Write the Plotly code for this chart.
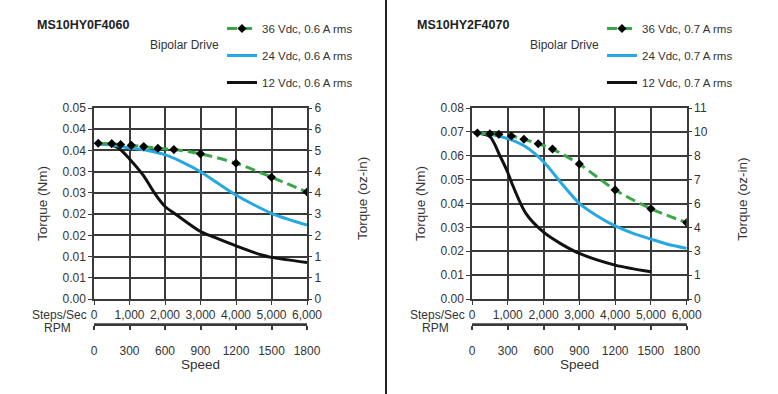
import plotly.graph_objects as go

# ---------------- data ----------------
# Left chart: MS10HY0F4060 (torque in Nm vs steps/sec)
l36_x = [120, 500, 750, 1050, 1400, 1800, 2250, 3000, 4000, 5000, 6000]
l36_y = [0.0367, 0.0366, 0.0364, 0.0362, 0.0359, 0.0355, 0.0352, 0.0342, 0.0320, 0.0287, 0.0252]
l24_x = [120, 500, 1000, 1500, 2000, 2500, 3000, 3500, 4000, 4500, 5000, 5500, 6000]
l24_y = [0.0366, 0.0363, 0.0356, 0.0350, 0.0340, 0.0322, 0.0300, 0.0272, 0.0245, 0.0222, 0.0202, 0.0187, 0.0174]
l12_x = [120, 500, 700, 1000, 1400, 1700, 2000, 2330, 3000, 3400, 4000, 4750, 5000, 6000]
l12_y = [0.0366, 0.0363, 0.0355, 0.0330, 0.0290, 0.0250, 0.0218, 0.0198, 0.0159, 0.0145, 0.0125, 0.0103, 0.0098, 0.0086]

# Right chart: MS10HY2F4070
r36_x = [150, 500, 750, 1100, 1450, 1850, 2250, 3000, 4000, 5000, 6000]
r36_y = [0.0695, 0.0692, 0.0690, 0.0683, 0.0669, 0.0650, 0.0628, 0.0565, 0.0457, 0.0378, 0.0320]
r24_x = [150, 500, 1000, 1500, 2000, 2500, 3000, 3500, 4000, 4500, 5000, 5500, 6000]
r24_y = [0.0695, 0.0690, 0.0672, 0.0638, 0.0575, 0.0485, 0.0401, 0.0348, 0.0306, 0.0275, 0.0251, 0.0228, 0.0212]
r12_x = [150, 500, 780, 1000, 1100, 1500, 2000, 2500, 3000, 4000, 5000]
r12_y = [0.0695, 0.0680, 0.0600, 0.0530, 0.0490, 0.0360, 0.0280, 0.0230, 0.0191, 0.0142, 0.0114]

# axis ticks / labels
steps_ticks = [0, 1000, 2000, 3000, 4000, 5000, 6000]
steps_text = ["0", "1,000", "2,000", "3,000", "4,000", "5,000", "6,000"]
rpm_ticks = [0, 300, 600, 900, 1200, 1500, 1800]
rpm_text = ["0", "300", "600", "900", "1200", "1500", "1800"]

l_nm_ticks = [0, 0.005, 0.01, 0.015, 0.02, 0.025, 0.03, 0.035, 0.04, 0.045]
l_nm_text = ["0.00", "0.01", "0.01", "0.02", "0.02", "0.03", "0.03", "0.04", "0.04", "0.05"]
l_oz_text = ["0", "1", "1", "2", "3", "4", "4", "5", "6", "6"]

r_nm_ticks = [0, 0.01, 0.02, 0.03, 0.04, 0.05, 0.06, 0.07, 0.08]
r_nm_text = ["0.00", "0.01", "0.02", "0.03", "0.04", "0.05", "0.06", "0.07", "0.08"]
r_oz_text = ["0", "1", "3", "4", "6", "7", "8", "10", "11"]

left_names = ["36 Vdc, 0.6 A rms", "24 Vdc, 0.6 A rms", "12 Vdc, 0.6 A rms"]
right_names = ["36 Vdc, 0.7 A rms", "24 Vdc, 0.7 A rms", "12 Vdc, 0.7 A rms"]
titles = ["MS10HY0F4060", "MS10HY2F4070"]

# ---------------- styling ----------------
W, H = 778, 394
FONT = "Liberation Sans, Arial, sans-serif"
TXT = "#333333"
GRID = "#3a3a3a"
GREEN = "#3aa64a"
BLUE = "#26a9e0"
BLACK = "#111111"

def px_x(p):
    return p / W

def px_y(p):
    return 1 - p / H

Y_DOM = [px_y(299), px_y(108)]
RPM_DOM = [px_y(324), px_y(318)]
L_DOM = [px_x(94), px_x(307)]
R_DOM = [px_x(472), px_x(686.7)]

fig = go.Figure()

def add_series(xa, ya, xs, names, legend, group_prefix):
    fig.add_trace(go.Scatter(x=xs[2][0], y=xs[2][1], mode="lines", name=names[2],
                             line=dict(color=BLACK, width=3, shape="spline", smoothing=0.8),
                             xaxis=xa, yaxis=ya, legend=legend, legendrank=3,
                             legendgroup=group_prefix + "c"))
    fig.add_trace(go.Scatter(x=xs[1][0], y=xs[1][1], mode="lines", name=names[1],
                             line=dict(color=BLUE, width=3, shape="spline", smoothing=0.8),
                             xaxis=xa, yaxis=ya, legend=legend, legendrank=2,
                             legendgroup=group_prefix + "b"))
    fig.add_trace(go.Scatter(x=xs[0][0], y=xs[0][1], mode="lines+markers", name=names[0],
                             line=dict(color=GREEN, width=3, dash="10px,5px", shape="spline", smoothing=0.8),
                             marker=dict(symbol="diamond", size=7, color="black"),
                             xaxis=xa, yaxis=ya, legend=legend, legendrank=1,
                             legendgroup=group_prefix + "a"))

add_series("x", "y", [(l36_x, l36_y), (l24_x, l24_y), (l12_x, l12_y)], left_names, "legend", "L")
add_series("x3", "y3", [(r36_x, r36_y), (r24_x, r24_y), (r12_x, r12_y)], right_names, "legend2", "R")

# empty traces so the secondary axes (oz-in, RPM) are drawn
for xa, ya in [("x", "y2"), ("x2", "y5"), ("x3", "y4"), ("x4", "y6")]:
    fig.add_trace(go.Scatter(x=[None], y=[None], xaxis=xa, yaxis=ya, showlegend=False,
                             hoverinfo="skip", mode="lines"))

tickfont = dict(family=FONT, size=12, color=TXT)

def main_x(dom, anchor):
    return dict(domain=dom, anchor=anchor, range=[0, 6000], tickvals=steps_ticks, ticktext=steps_text,
                showgrid=True, gridcolor=GRID, gridwidth=1.5, showline=True, linecolor=GRID,
                linewidth=1.5, mirror=True, ticks="outside", ticklen=4, tickcolor=GRID,
                tickfont=tickfont, zeroline=False, automargin=False)

def rpm_x(dom, anchor):
    return dict(domain=dom, anchor=anchor, range=[0, 1800],
                tickvals=rpm_ticks, ticktext=rpm_text, showgrid=False, showline=True,
                linecolor=GRID, linewidth=1.5, ticks="outside", ticklen=4, tickwidth=1.5,
                tickcolor=GRID, tickfont=tickfont, zeroline=False, side="bottom",
                ticklabelstandoff=11, automargin=False)

def rpm_holder_y(anchor):
    return dict(domain=RPM_DOM, anchor=anchor, visible=True, range=[0, 1], fixedrange=True,
                showticklabels=False, showgrid=False, showline=False, ticks="", zeroline=False)

def main_y(anchor, rng, tv, tt):
    return dict(domain=Y_DOM, anchor=anchor, range=rng, tickvals=tv, ticktext=tt,
                showgrid=True, gridcolor=GRID, gridwidth=1.5, showline=True, linecolor=GRID,
                linewidth=1.5, mirror=True, ticks="outside", ticklen=4, tickcolor=GRID,
                tickfont=tickfont, zeroline=False, automargin=False)

def oz_y(over, anchor, rng, tv, tt):
    return dict(overlaying=over, anchor=anchor, side="right", range=rng, tickvals=tv, ticktext=tt,
                showgrid=False, showline=False, ticks="outside", ticklen=4, tickcolor=GRID,
                tickfont=tickfont, zeroline=False, automargin=False)

fig.update_layout(
    width=W, height=H, margin=dict(l=0, r=0, t=0, b=0, pad=0, autoexpand=False),
    paper_bgcolor="white", plot_bgcolor="rgba(0,0,0,0)",
    font=dict(family=FONT, color=TXT),
    xaxis=main_x(L_DOM, "y"),
    xaxis2=rpm_x(L_DOM, "y5"),
    yaxis=main_y("x", [0, 0.045], l_nm_ticks, l_nm_text),
    yaxis2=oz_y("y", "x", [0, 0.045], l_nm_ticks, l_oz_text),
    yaxis5=rpm_holder_y("x2"),
    xaxis3=main_x(R_DOM, "y3"),
    xaxis4=rpm_x(R_DOM, "y6"),
    yaxis3=main_y("x3", [0, 0.08], r_nm_ticks, r_nm_text),
    yaxis4=oz_y("y3", "x3", [0, 0.08], r_nm_ticks, r_oz_text),
    yaxis6=rpm_holder_y("x4"),
    legend=dict(x=px_x(222), y=px_y(14), xanchor="left", yanchor="top",
                font=dict(family=FONT, size=11.5, color=TXT), tracegroupgap=8,
                bgcolor="rgba(0,0,0,0)", itemwidth=30),
    legend2=dict(x=px_x(602), y=px_y(14), xanchor="left", yanchor="top",
                 font=dict(family=FONT, size=11.5, color=TXT), tracegroupgap=8,
                 bgcolor="rgba(0,0,0,0)", itemwidth=30),
    showlegend=True,
)

annotations = []
for left_px, plot_l, plot_r, title in [(35, 94, 307, titles[0]), (415, 472, 686.7, titles[1])]:
    annotations.append(dict(text="<b>" + title + "</b>", x=px_x(left_px), y=px_y(25), xref="paper", yref="paper",
                            xanchor="left", yanchor="middle", showarrow=False,
                            font=dict(family=FONT, size=12.5, color="#222222")))
    annotations.append(dict(text="Bipolar Drive", x=px_x(left_px + 113), y=px_y(45), xref="paper", yref="paper",
                            xanchor="left", yanchor="middle", showarrow=False,
                            font=dict(family=FONT, size=12, color=TXT)))
    annotations.append(dict(text="Torque (Nm)", x=px_x(plot_l - 52), y=px_y(204), xref="paper", yref="paper",
                            xanchor="center", yanchor="middle", textangle=-90, showarrow=False,
                            font=dict(family=FONT, size=13.5, color=TXT)))
    annotations.append(dict(text="Torque (oz-in)", x=px_x(plot_r + 55), y=px_y(199), xref="paper", yref="paper",
                            xanchor="center", yanchor="middle", textangle=-90, showarrow=False,
                            font=dict(family=FONT, size=13.5, color=TXT)))
    annotations.append(dict(text="Steps/Sec", x=px_x(plot_l - 5), y=px_y(315), xref="paper", yref="paper",
                            xanchor="right", yanchor="middle", showarrow=False,
                            font=dict(family=FONT, size=12, color=TXT)))
    annotations.append(dict(text="RPM", x=px_x(plot_l - 37), y=px_y(328), xref="paper", yref="paper",
                            xanchor="center", yanchor="middle", showarrow=False,
                            font=dict(family=FONT, size=12, color=TXT)))
    annotations.append(dict(text="Speed", x=px_x((plot_l + plot_r) / 2), y=px_y(364), xref="paper", yref="paper",
                            xanchor="center", yanchor="middle", showarrow=False,
                            font=dict(family=FONT, size=13.5, color=TXT)))
fig.update_layout(annotations=annotations)

# divider between the two charts
fig.add_shape(type="line", xref="paper", yref="paper", x0=px_x(386), x1=px_x(386), y0=0, y1=1,
              line=dict(color="#222222", width=2))

# RPM axis baseline spanning each chart's plot width
for dom in [L_DOM, R_DOM]:
    fig.add_shape(type="line", xref="paper", yref="paper", x0=dom[0], x1=dom[1],
                  y0=px_y(324), y1=px_y(324), line=dict(color=GRID, width=1.5))

fig.write_html("out.html", config={"displayModeBar": False},
               post_script="document.body.style.margin='0';")
